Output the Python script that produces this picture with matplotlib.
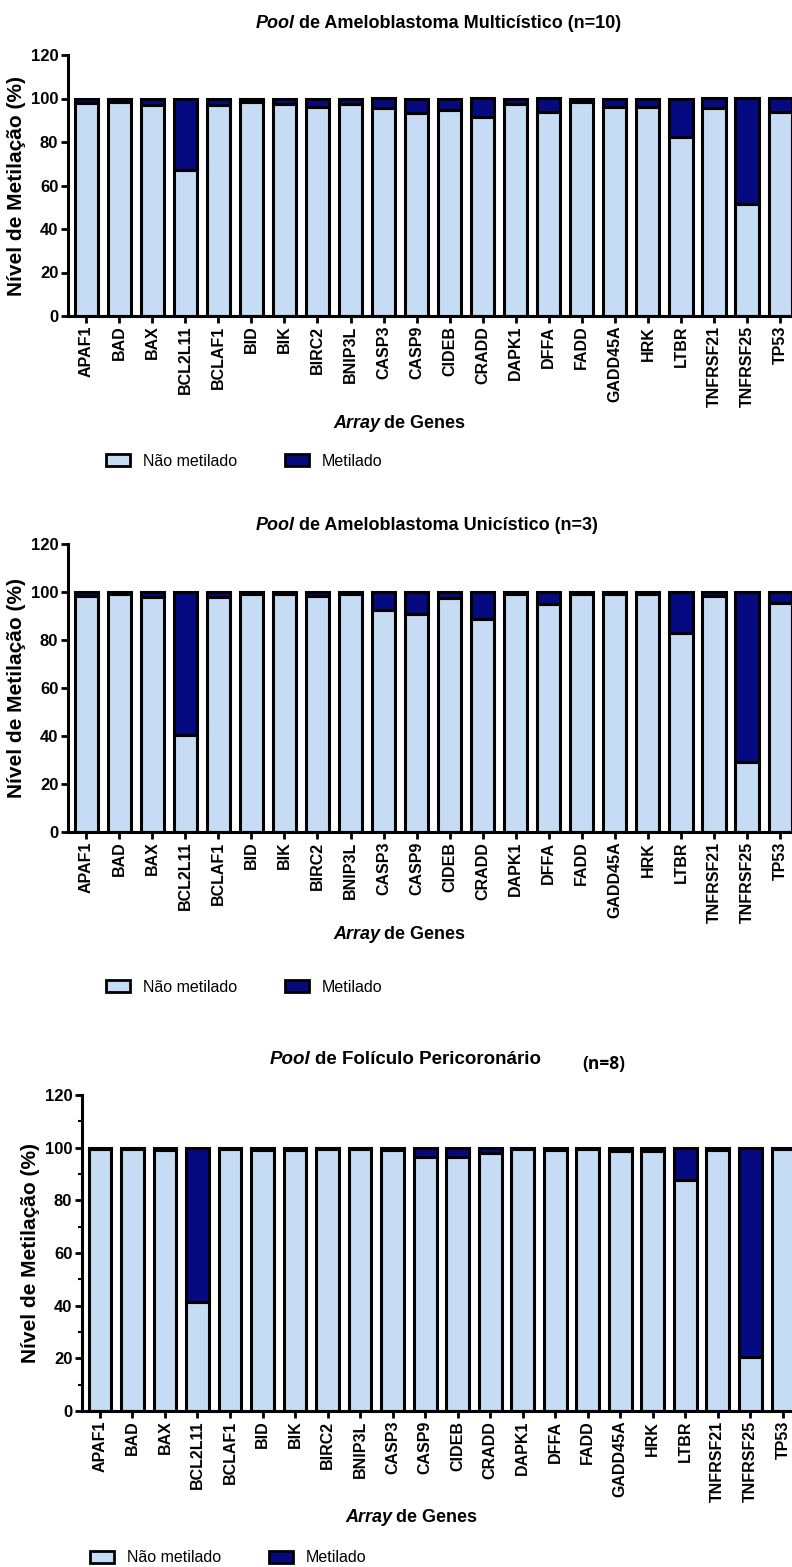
import matplotlib.pyplot as plt
from matplotlib.patches import Patch
from matplotlib.ticker import MultipleLocator

plt.rcParams['font.family'] = ['Liberation Sans', 'DejaVu Sans']

# Genes in the array
genes = ['APAF1', 'BAD', 'BAX', 'BCL2L11', 'BCLAF1', 'BID', 'BIK', 'BIRC2', 'BNIP3L', 'CASP3', 'CASP9',
         'CIDEB', 'CRADD', 'DAPK1', 'DFFA', 'FADD', 'GADD45A', 'HRK', 'LTBR', 'TNFRSF21', 'TNFRSF25', 'TP53']

# Ameloblastoma multicistico (n=10)
multi_nao = [97.8, 98.6, 97, 67, 97, 98.5, 97.5, 96, 97.5, 95.5, 93.5, 94.5, 91.5, 97.5, 94, 98.5, 96, 96, 82.5, 95.5, 51.5, 94]
multi_met = [2.2, 1.4, 3, 33, 3, 1.5, 2.5, 4, 2.5, 4.5, 6.5, 5.5, 8.5, 2.5, 6, 1.5, 4, 4, 17.5, 4.5, 48.5, 6]

# Ameloblastoma unicistico (n=3)
uni_nao = [98.5, 99.3, 98, 40.5, 98, 99.3, 99.3, 98.5, 99, 92.5, 90.8, 97.5, 88.8, 99.3, 94.8, 99.3, 99.3, 99.3, 82.8, 98.5, 29, 95.5]
uni_met = [1.5, 0.7, 2, 59.5, 2, 0.7, 0.7, 1.5, 1, 7.5, 9.2, 2.5, 11.2, 0.7, 5.2, 0.7, 0.7, 0.7, 17.2, 1.5, 71, 4.5]

# Foliculo pericoronario (n=8)
foli_nao = [99.4, 99.4, 99, 41.5, 99.4, 99, 99, 99.4, 99.4, 99, 96.3, 96.5, 97.8, 99.4, 99, 99.4, 98.6, 98.6, 87.6, 99, 20.5, 99.4]
foli_met = [0.6, 0.6, 1, 58.5, 0.6, 1, 1, 0.6, 0.6, 1, 3.7, 3.5, 2.2, 0.6, 1, 0.6, 1.4, 1.4, 12.4, 1, 79.5, 0.6]

light = '#c6dcf4'
dark = '#050a80'
W, H = 792, 1567

fig = plt.figure(figsize=(W / 100, H / 100), dpi=100)


def px(x, y):
    # pixel position (from top-left) -> figure fraction
    return x / W, 1 - y / H


def mixed_text(x, y, italic, rest, size):
    t1 = fig.text(*px(x, y), italic, fontsize=size, fontweight='bold', fontstyle='italic',
                  va='center', ha='left')
    t2 = plt.annotate(rest, xy=(1, 0), xycoords=t1, xytext=(4, 0), textcoords='offset pixels',
                      fontsize=size, fontweight='bold', va='bottom', ha='left', annotation_clip=False)
    return t1, t2


def draw_panel(left, top, bottom, nao, met, xmax, minor=False):
    l, t = px(left, top)
    _, b = px(left, bottom)
    ax = fig.add_axes([l, b, 1 - l, t - b])
    x = range(len(genes))
    ax.bar(x, nao, width=0.7, color=light, edgecolor='black', linewidth=2.2, zorder=2)
    ax.bar(x, met, width=0.7, bottom=nao, color=dark, edgecolor='black', linewidth=2.2, zorder=2)
    ax.set_xlim(-0.55, xmax)
    ax.set_ylim(0, 120)
    ax.set_yticks([0, 20, 40, 60, 80, 100, 120])
    if minor:
        ax.yaxis.set_minor_locator(MultipleLocator(10))
        ax.tick_params(axis='y', which='minor', length=3, width=1.5)
    ax.set_xticks(list(x))
    ax.set_xticklabels(genes, rotation=90, fontsize=11.5, fontweight='bold')
    for lab in ax.get_yticklabels():
        lab.set_fontweight('bold')
        lab.set_fontsize(12)
    ax.tick_params(axis='both', which='major', length=5, width=2, pad=2)
    for s in ['top', 'right']:
        ax.spines[s].set_visible(False)
    for s in ['left', 'bottom']:
        ax.spines[s].set_linewidth(2.2)
    ax.set_ylabel('Nível de Metilação (%)', fontsize=15, fontweight='bold', labelpad=3)
    return ax


def legend_at(x, y):
    handles = [Patch(facecolor=light, edgecolor='black', linewidth=2, label='Não metilado'),
               Patch(facecolor=dark, edgecolor='black', linewidth=2, label='Metilado')]
    fig.legend(handles=handles, loc='center left', bbox_to_anchor=px(x, y), ncol=2, frameon=False,
               fontsize=11.5, handlelength=1.5, handleheight=0.8, handletextpad=0.8,
               columnspacing=3.0, borderpad=0, borderaxespad=0)


# Panel 1
ax1 = draw_panel(68, 55, 316, multi_nao, multi_met, 21.36)
mixed_text(256, 24, 'Pool', 'de Ameloblastoma Multicístico (n=10)', 13)
mixed_text(333, 423, 'Array', 'de Genes', 13)
legend_at(106, 461)

# Panel 2
ax2 = draw_panel(68, 544, 832, uni_nao, uni_met, 21.36)
mixed_text(256, 525, 'Pool', 'de Ameloblastoma Unicístico (n=3)', 13)
mixed_text(333, 935, 'Array', 'de Genes', 13)
legend_at(106, 987)

# Panel 3
ax3 = draw_panel(82, 1095, 1411, foli_nao, foli_met, 21.28, minor=True)
mixed_text(270, 1060, 'Pool', 'de Folículo Pericoronário', 13.5)
fig.text(*px(582, 1064), '(n=8)', fontsize=12.5, fontweight='bold', family=['Open Sans', 'DejaVu Sans'],
         va='center', ha='left')
mixed_text(345, 1518, 'Array', 'de Genes', 13)
legend_at(90, 1558)

fig.savefig('out.png', dpi=100)
